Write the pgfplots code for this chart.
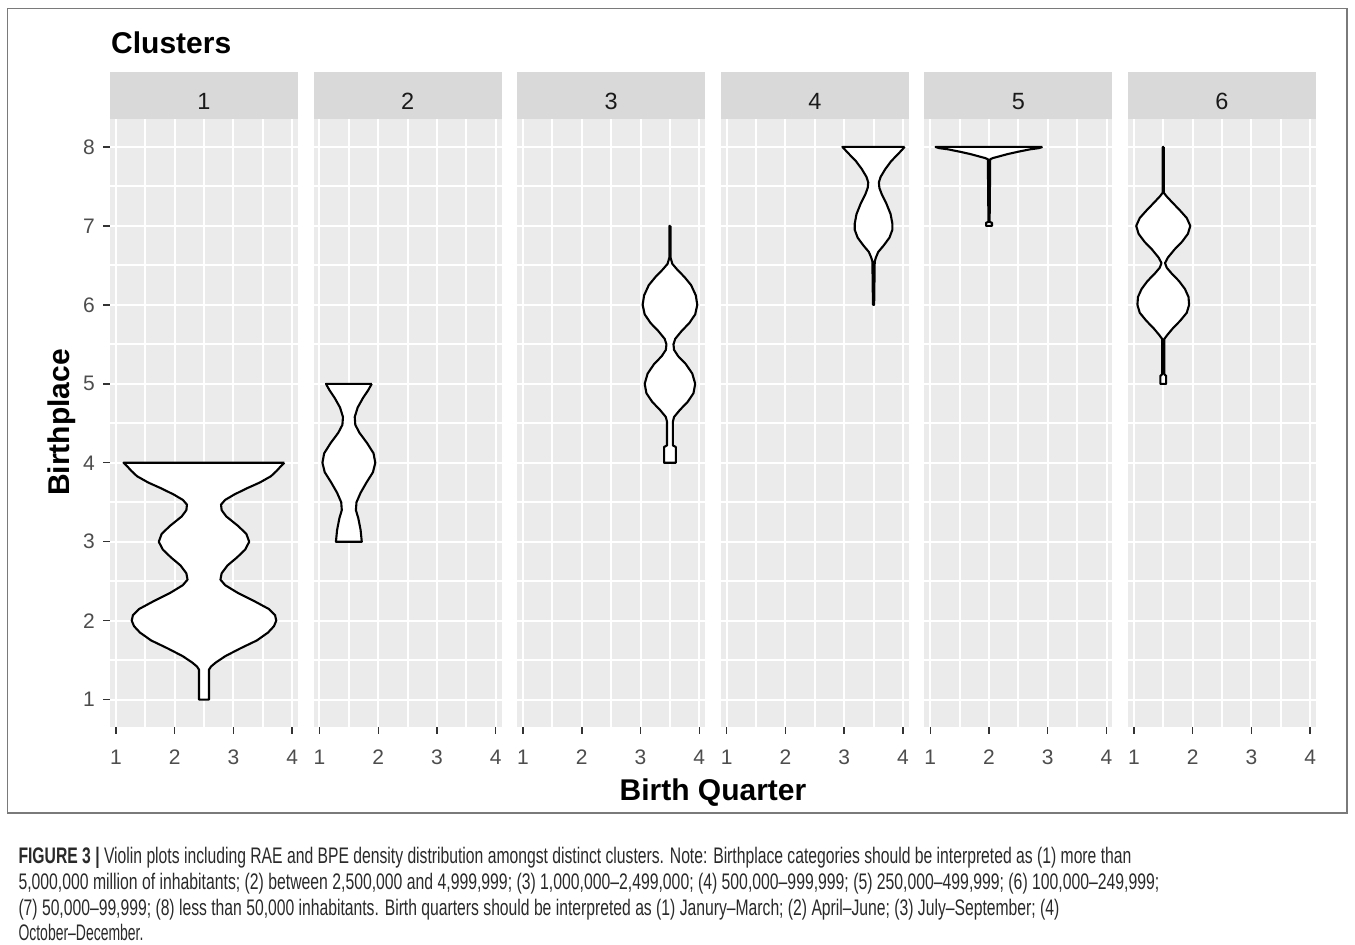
\documentclass[border=0pt]{standalone}
\usepackage{fontspec}
\setmainfont{Liberation Sans}
\newfontfamily\capfont{Liberation Sans}
\usepackage{graphicx}
\usepackage{pgfplots}
\pgfplotsset{compat=1.18}
\definecolor{panelbg}{HTML}{EBEBEB}
\definecolor{stripgray}{HTML}{D9D9D9}
\definecolor{striptext}{HTML}{1A1A1A}
\definecolor{tickgray}{HTML}{333333}
\definecolor{labelgray}{HTML}{4D4D4D}
\definecolor{framegray}{HTML}{7A7A7A}
\definecolor{captext}{HTML}{2A2A2A}
\pgfplotsset{
  panel/.style={
    width=188pt, height=608pt, scale only axis,
    anchor=north west,
    xmin=0.9, xmax=4.1, ymin=0.65, ymax=8.35,
    axis background/.style={fill=panelbg},
    axis line style={draw=none},
    xtick={1,2,3,4},
    ytick=\empty,
    minor xtick={1,1.5,...,4},
    xminorgrids=true,
    minor grid style={white, line width=2pt},
    minor tick length=0pt,
    major tick length=6.6pt,
    tick align=outside,
    xtick pos=bottom, ytick pos=left,
    tick style={draw=tickgray, line width=1.4pt},
    tick label style={font=\fontsize{21}{21}\selectfont, text=labelgray},
    xticklabel style={inner sep=0pt, yshift=-16pt},
    yticklabel style={inner sep=0pt, xshift=-8.4pt},
    /pgf/number format/assume math mode=true,
    extra y ticks={1,1.5,...,8},
    extra y tick labels={},
    extra y tick style={grid=major, major grid style={white, line width=2pt}, tick style={draw=none}},
  },
  violin/.style={draw=black, fill=white, line width=2.1pt, line join=round, mark=none},
}
\begin{document}
\begin{tikzpicture}[x=1pt,y=1pt]
\useasboundingbox (0,0) rectangle (1355,-945);
\fill[white] (0,0) rectangle (1355,-945);
\draw[framegray, line width=1.3pt] (7.5,-8.3) rectangle (1347,-813);
\node[anchor=base west, inner sep=0pt, font=\fontsize{30}{30}\selectfont\bfseries] at (111,-53.3) {Clusters};
\foreach \l/\n in {110/1, 313.6/2, 517.2/3, 720.8/4, 924.4/5, 1128/6} {
  \fill[stripgray] (\l,-72) rectangle (\l+188,-119.3);
  \node[anchor=base, inner sep=0pt, text=striptext, font=\fontsize{23.5}{23.5}\selectfont] at (\l+94,-109.3) {\n};
}

% Panel 1
\begin{axis}[panel, at={(110pt,-119.3pt)}, ytick={1,...,8}]
\addplot[violin] coordinates {
(3.87,4.00)(3.80,3.95)(3.74,3.90)(3.64,3.83)(3.45,3.75)(3.24,3.68)(3.02,3.60)(2.86,3.53)(2.79,3.47)(2.80,3.40)(2.88,3.32)(3.08,3.20)(3.22,3.10)(3.27,3.00)(3.20,2.90)(3.06,2.80)(2.90,2.70)(2.80,2.60)(2.78,2.52)(2.86,2.45)(3.08,2.35)(3.35,2.25)(3.60,2.15)(3.71,2.07)(3.73,2.00)(3.69,1.93)(3.59,1.85)(3.40,1.75)(3.12,1.65)(2.86,1.55)(2.70,1.47)(2.62,1.42)(2.585,1.38)(2.585,1.00)
(2.415,1.00)(2.415,1.38)(2.38,1.42)(2.30,1.47)(2.14,1.55)(1.88,1.65)(1.60,1.75)(1.41,1.85)(1.31,1.93)(1.27,2.00)(1.29,2.07)(1.40,2.15)(1.65,2.25)(1.92,2.35)(2.14,2.45)(2.22,2.52)(2.20,2.60)(2.10,2.70)(1.94,2.80)(1.80,2.90)(1.73,3.00)(1.78,3.10)(1.92,3.20)(2.12,3.32)(2.20,3.40)(2.21,3.47)(2.14,3.53)(1.98,3.60)(1.76,3.68)(1.55,3.75)(1.36,3.83)(1.26,3.90)(1.20,3.95)(1.13,4.00)(3.87,4.00)
};
\end{axis}

% Panel 2
\begin{axis}[panel, at={(313.6pt,-119.3pt)}]
\addplot[violin] coordinates {
(1.89,5.00)(1.83,4.92)(1.74,4.82)(1.65,4.70)(1.60,4.58)(1.61,4.48)(1.68,4.38)(1.81,4.25)(1.92,4.12)(1.95,4.00)(1.91,3.88)(1.80,3.75)(1.70,3.62)(1.63,3.50)(1.62,3.40)(1.66,3.30)(1.70,3.15)(1.72,3.00)
(1.28,3.00)(1.30,3.15)(1.34,3.30)(1.38,3.40)(1.37,3.50)(1.30,3.62)(1.20,3.75)(1.09,3.88)(1.05,4.00)(1.08,4.12)(1.19,4.25)(1.32,4.38)(1.39,4.48)(1.40,4.58)(1.35,4.70)(1.26,4.82)(1.17,4.92)(1.11,5.00)(1.89,5.00)
};
\end{axis}

% Panel 3
\begin{axis}[panel, at={(517.2pt,-119.3pt)}]
\addplot[violin] coordinates {
(3.51,7.00)(3.51,6.60)(3.54,6.52)(3.62,6.45)(3.75,6.35)(3.86,6.25)(3.94,6.12)(3.965,6.00)(3.93,5.88)(3.83,5.77)(3.70,5.67)(3.59,5.57)(3.56,5.50)(3.57,5.43)(3.64,5.35)(3.77,5.25)(3.88,5.13)(3.93,5.00)(3.90,4.88)(3.80,4.77)(3.67,4.67)(3.57,4.58)(3.55,4.52)(3.55,4.22)(3.60,4.20)(3.60,4.00)
(3.40,4.00)(3.40,4.20)(3.45,4.22)(3.45,4.52)(3.43,4.58)(3.33,4.67)(3.20,4.77)(3.10,4.88)(3.07,5.00)(3.12,5.13)(3.23,5.25)(3.36,5.35)(3.43,5.43)(3.44,5.50)(3.41,5.57)(3.30,5.67)(3.17,5.77)(3.07,5.88)(3.035,6.00)(3.06,6.12)(3.14,6.25)(3.25,6.35)(3.38,6.45)(3.46,6.52)(3.49,6.60)(3.49,7.00)(3.51,7.00)
};
\end{axis}

% Panel 4
\begin{axis}[panel, at={(720.8pt,-119.3pt)}]
\addplot[violin] coordinates {
(4.03,8.00)(3.93,7.92)(3.80,7.82)(3.70,7.72)(3.62,7.62)(3.59,7.55)(3.60,7.48)(3.64,7.40)(3.72,7.28)(3.79,7.15)(3.82,7.03)(3.82,6.95)(3.77,6.85)(3.67,6.75)(3.58,6.67)(3.54,6.60)(3.52,6.55)(3.51,6.00)
(3.49,6.00)(3.48,6.55)(3.46,6.60)(3.42,6.67)(3.33,6.75)(3.23,6.85)(3.18,6.95)(3.18,7.03)(3.21,7.15)(3.28,7.28)(3.36,7.40)(3.40,7.48)(3.41,7.55)(3.38,7.62)(3.30,7.72)(3.20,7.82)(3.07,7.92)(2.97,8.00)(4.03,8.00)
};
\end{axis}

% Panel 5
\begin{axis}[panel, at={(924.4pt,-119.3pt)}]
\addplot[violin] coordinates {
(2.91,8.00)(2.85,7.985)(2.70,7.97)(2.50,7.94)(2.32,7.91)(2.17,7.88)(2.07,7.86)(2.02,7.845)(2.01,7.05)(2.05,7.04)(2.05,7.00)
(1.95,7.00)(1.95,7.04)(1.99,7.05)(1.98,7.845)(1.93,7.86)(1.83,7.88)(1.68,7.91)(1.50,7.94)(1.30,7.97)(1.15,7.985)(1.09,8.00)(2.91,8.00)
};
\end{axis}

% Panel 6
\begin{axis}[panel, at={(1128pt,-119.3pt)}]
\addplot[violin] coordinates {
(1.51,8.00)(1.51,7.42)(1.55,7.38)(1.65,7.30)(1.78,7.20)(1.90,7.10)(1.96,7.00)(1.92,6.90)(1.82,6.80)(1.69,6.70)(1.58,6.60)(1.53,6.53)(1.56,6.47)(1.64,6.40)(1.77,6.30)(1.87,6.20)(1.93,6.10)(1.94,6.00)(1.90,5.90)(1.79,5.80)(1.66,5.70)(1.57,5.62)(1.52,5.57)(1.52,5.12)(1.55,5.10)(1.55,5.00)
(1.45,5.00)(1.45,5.10)(1.48,5.12)(1.48,5.57)(1.43,5.62)(1.34,5.70)(1.21,5.80)(1.10,5.90)(1.06,6.00)(1.07,6.10)(1.13,6.20)(1.23,6.30)(1.36,6.40)(1.44,6.47)(1.47,6.53)(1.42,6.60)(1.31,6.70)(1.18,6.80)(1.08,6.90)(1.04,7.00)(1.10,7.10)(1.22,7.20)(1.35,7.30)(1.45,7.38)(1.49,7.42)(1.49,8.00)(1.51,8.00)
};
\end{axis}

\node[anchor=base, inner sep=0pt, rotate=90, font=\fontsize{30}{30}\selectfont\bfseries] at (69,-422.5) {Birthplace};
\node[anchor=base, inner sep=0pt, font=\fontsize{30}{30}\selectfont\bfseries] at (713,-800) {Birth Quarter};

\node[anchor=base west, inner sep=0pt, text=captext] at (18.3,-863) {\resizebox{1113pt}{\height}{\capfont\fontsize{22.5}{22.5}\selectfont\textbf{FIGURE 3 |} Violin plots including RAE and BPE density distribution amongst distinct clusters. Note: Birthplace categories should be interpreted as (1) more than}};
\node[anchor=base west, inner sep=0pt, text=captext] at (18.3,-889) {\resizebox{1141pt}{\height}{\capfont\fontsize{22.5}{22.5}\selectfont 5,000,000 million of inhabitants; (2) between 2,500,000 and 4,999,999; (3) 1,000,000–2,499,000; (4) 500,000–999,999; (5) 250,000–499,999; (6) 100,000–249,999;}};
\node[anchor=base west, inner sep=0pt, text=captext] at (18.3,-915) {\resizebox{1041pt}{\height}{\capfont\fontsize{22.5}{22.5}\selectfont (7) 50,000–99,999; (8) less than 50,000 inhabitants. Birth quarters should be interpreted as (1) Janury–March; (2) April–June; (3) July–September; (4)}};
\node[anchor=base west, inner sep=0pt, text=captext] at (18.3,-940.5) {\resizebox{125pt}{\height}{\capfont\fontsize{22.5}{22.5}\selectfont October–December.}};
\end{tikzpicture}
\end{document}
